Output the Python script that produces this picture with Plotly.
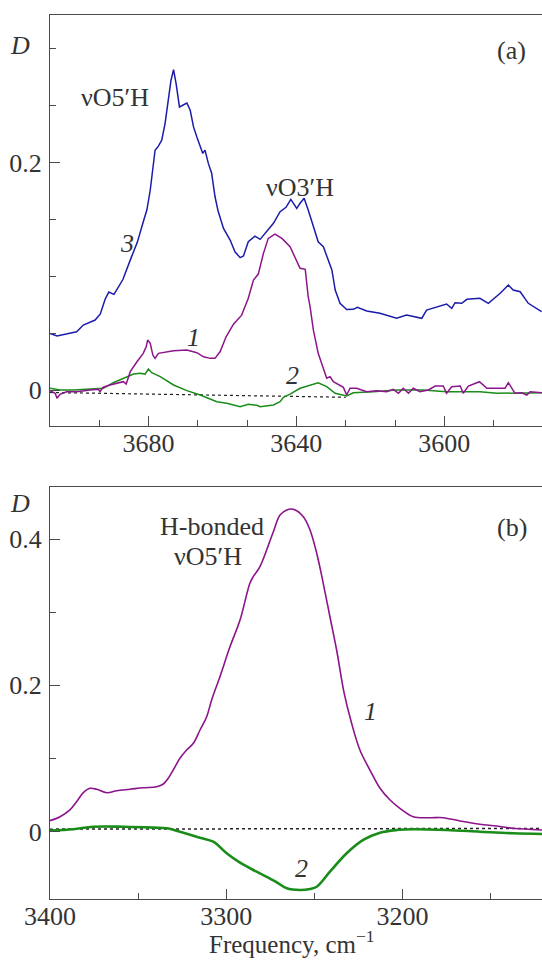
import plotly.graph_objects as go

# ---------------- Panel (a) data ----------------
freq_a3 = [3706.6, 3704.7, 3699.4, 3697.6, 3694.4, 3693.0, 3691.7, 3690.7, 3689.3, 3686.9,
           3684.6, 3683.0, 3681.3, 3680.4, 3679.5, 3678.2, 3677.3, 3676.4, 3675.5, 3674.6,
           3673.9, 3673.2, 3672.5, 3671.6, 3670.7, 3669.6, 3668.7, 3667.8, 3666.9, 3666.0,
           3665.3, 3664.7, 3663.8, 3662.9, 3662.0, 3661.2, 3659.7, 3657.9, 3656.6, 3655.2,
           3654.3, 3653.0, 3651.2, 3649.8, 3648.0, 3646.2, 3644.4, 3642.8, 3641.5, 3639.9,
           3639.0, 3637.9, 3636.8, 3635.4, 3634.1, 3632.7, 3631.4, 3630.4, 3629.5, 3628.2,
           3626.4, 3624.6, 3623.5, 3621.0, 3617.4, 3613.8, 3612.9, 3610.2, 3606.1, 3604.8,
           3602.1, 3599.4, 3598.0, 3597.1, 3595.3, 3593.9, 3590.4, 3588.1, 3584.9, 3582.7,
           3581.4, 3579.5, 3577.3, 3573.7]
d_a3 = [0.050, 0.0476, 0.0514, 0.0573, 0.0617, 0.067, 0.080, 0.0863, 0.0843, 0.0973,
        0.117, 0.130, 0.149, 0.1586, 0.176, 0.211, 0.2146, 0.2198, 0.2344, 0.2548,
        0.2723, 0.2819, 0.2694, 0.249, 0.2504, 0.2525, 0.2461, 0.2315, 0.2227, 0.214,
        0.2082, 0.2111, 0.1994, 0.1907, 0.1703, 0.158, 0.1423, 0.132, 0.1217, 0.1165,
        0.118, 0.1305, 0.1355, 0.1326, 0.1393, 0.1467, 0.1569, 0.1608, 0.1678, 0.1599,
        0.1643, 0.1687, 0.1584, 0.1437, 0.1305, 0.1261, 0.1145, 0.1057, 0.0881, 0.0764,
        0.071, 0.0711, 0.0729, 0.0696, 0.0676, 0.064, 0.0632, 0.0661, 0.0632, 0.0705,
        0.0734, 0.0758, 0.072, 0.0769, 0.0764, 0.0799, 0.0808, 0.0764, 0.0852, 0.0925,
        0.0881, 0.0866, 0.0764, 0.069]

freq_a1 = [3706.6, 3705.2, 3704.7, 3703.9, 3702.1, 3699.4, 3695.8, 3693.5, 3693.1, 3692.2,
           3690.4, 3688.5, 3686.8, 3686.0, 3684.9, 3683.1, 3681.4, 3680.6, 3680.2, 3679.5,
           3678.8, 3678.2, 3677.3, 3673.2, 3669.6, 3666.9, 3665.1, 3663.3, 3662.0, 3660.6,
           3659.0, 3657.0, 3655.7, 3654.8, 3653.9, 3653.0, 3651.6, 3650.3, 3648.9, 3647.6,
           3645.8, 3643.9, 3641.7, 3640.4, 3639.0, 3637.6, 3636.8, 3636.3, 3635.4, 3634.1,
           3632.7, 3631.8, 3630.9, 3630.0, 3627.3, 3626.4, 3625.5, 3623.7, 3621.0, 3618.3,
           3615.6, 3613.8, 3612.4, 3611.1, 3609.7, 3608.4, 3606.6, 3604.3, 3602.5, 3600.3,
           3599.4, 3598.0, 3595.7, 3594.9, 3593.5, 3591.2, 3590.5, 3588.5, 3585.4, 3583.6,
           3582.7, 3581.8, 3580.9, 3579.1, 3577.7, 3576.8, 3573.7]
d_a1 = [-0.0004, -0.0027, -0.0071, -0.0036, -0.0013, -0.0013, 0.0002, 0.0008, -0.0013, 0.0026,
        0.0046, 0.0061, 0.0075, 0.0055, 0.0163, 0.025, 0.0324, 0.0382, 0.0441, 0.0412,
        0.0309, 0.028, 0.0324, 0.0347, 0.0353, 0.033, 0.0294, 0.028, 0.028, 0.034,
        0.047, 0.058, 0.063, 0.066, 0.0734, 0.0808, 0.0969, 0.1021, 0.1203, 0.1335,
        0.1373, 0.1335, 0.1261, 0.1174, 0.1072, 0.1063, 0.0822, 0.0734, 0.0529, 0.0324,
        0.0178, 0.0105, 0.0119, 0.0075, 0.0025, -0.0042, 0.0017, 0.0017, -0.0013, -0.0004,
        -0.0013, 0.0008, -0.0027, 0.0017, -0.0027, 0.0017, -0.0013, 0.0002, 0.0037, 0.0037,
        -0.0027, 0.0031, 0.0037, -0.0027, 0.0037, 0.0061, 0.0075, 0.0017, 0.0017, 0.0017,
        0.0066, 0.0017, -0.0027, -0.0022, -0.0042, -0.0013, -0.0022]

freq_a2 = [3706.6, 3703.9, 3700.3, 3695.8, 3692.2, 3689.5, 3687.6, 3685.8, 3684.0, 3682.2,
           3680.9, 3680.0, 3679.1, 3676.8, 3673.2, 3669.6, 3666.0, 3661.5, 3658.8, 3655.2,
           3653.0, 3650.7, 3649.8, 3646.2, 3644.4, 3643.5, 3641.7, 3639.0, 3636.3, 3634.1,
           3631.8, 3629.5, 3626.4, 3624.6, 3619.2, 3612.9, 3605.7, 3599.4, 3590.4, 3585.8,
           3573.6]
d_a2 = [0.0017, 0.0002, 0.0002, 0.0008, 0.0017, 0.0066, 0.009, 0.0113, 0.0142, 0.0149,
        0.0142, 0.0186, 0.0154, 0.0119, 0.0046, -0.0004, -0.0042, -0.0101, -0.0115, -0.0145,
        -0.0124, -0.0133, -0.0145, -0.013, -0.0101, -0.0062, -0.0035, 0.0017, 0.0046, 0.0066,
        0.0031, -0.0027, -0.0051, -0.0022, -0.0013, 0.0002, 0.0002, -0.0013, -0.0013, -0.0027,
        -0.0022]

freq_a_base = [3706.6, 3626.6]
d_a_base = [-0.002, -0.0062]

# ---------------- Panel (b) data ----------------
freq_b1 = [3400.0, 3394.3, 3388.7, 3384.9, 3381.1, 3377.3, 3373.5, 3367.8, 3362.2, 3354.6,
           3347.1, 3339.5, 3335.7, 3332.9, 3330.1, 3326.3, 3322.5, 3318.7, 3314.9, 3311.1,
           3308.3, 3303.6, 3297.9, 3292.2, 3286.6, 3284.7, 3280.9, 3277.1, 3273.3, 3269.5,
           3265.7, 3262.0, 3256.3, 3252.5, 3248.7, 3245.0, 3241.2, 3237.4, 3233.2, 3228.9,
           3224.2, 3218.5, 3212.8, 3207.1, 3201.5, 3193.9, 3184.5, 3176.9, 3167.4, 3156.1,
           3146.6, 3137.2, 3120.9]
d_b1 = [0.015, 0.0205, 0.0297, 0.041, 0.0533, 0.0593, 0.058, 0.0533, 0.056, 0.058,
        0.0601, 0.0615, 0.0652, 0.073, 0.0843, 0.1003, 0.1117, 0.1208, 0.139, 0.1572,
        0.18, 0.2118, 0.2528, 0.2893, 0.3395, 0.3485, 0.3622, 0.385, 0.41, 0.4328,
        0.4397, 0.4406, 0.4305, 0.4123, 0.3805, 0.3395, 0.2938, 0.2483, 0.19, 0.1481,
        0.1117, 0.0843, 0.0593, 0.0433, 0.032, 0.0205, 0.0191, 0.0191, 0.0146, 0.0101,
        0.0078, 0.0046, 0.0023]

freq_b2 = [3400.0, 3386.8, 3375.4, 3358.4, 3341.2, 3333.8, 3326.3, 3314.9, 3307.4, 3299.8,
           3292.2, 3282.8, 3272.0, 3265.7, 3258.2, 3252.5, 3248.7, 3241.2, 3231.7, 3222.3,
           3212.8, 3203.3, 3193.9, 3175.0, 3156.1, 3137.2, 3120.9]
d_b2 = [0.0014, 0.0033, 0.0068, 0.0068, 0.0055, 0.0046, 0.0, -0.0082, -0.0137, -0.0295,
        -0.0424, -0.0547, -0.0683, -0.0774, -0.0797, -0.0783, -0.0752, -0.0547, -0.0295, -0.0113,
        -0.0014, 0.0023, 0.0033, 0.0023, 0.0, -0.0022, -0.0031]

freq_b_base = [3400.0, 3120.9]
d_b_base = [0.0035, 0.0045]

# tick labels
xticks_a = [3680, 3640, 3600]
yticks_a = [0, 0.2]
yticklabels_a = ["0", "0.2"]
xticks_b = [3400, 3300, 3200]
yticks_b = [0, 0.2, 0.4]
yticklabels_b = ["0", "0.2", "0.4"]

# ---------------- styling ----------------
W, H = 542, 960
BLUE = "#1c1caa"
PURPLE = "#8c148c"
GREEN = "#1a8c1a"
AXIS = "#4a4a4a"
TXT = "#333333"
FONT = "Liberation Serif, Times New Roman, serif"
FS = 26

def px(x):
    return x / W

def py(y):
    return 1 - y / H

fig = go.Figure()

fig.add_trace(go.Scatter(x=freq_a_base, y=d_a_base, mode="lines",
                         line=dict(color="#222222", width=1.2, dash="dot"),
                         xaxis="x", yaxis="y", showlegend=False, hoverinfo="skip"))
fig.add_trace(go.Scatter(x=freq_a3, y=d_a3, mode="lines", line=dict(color=BLUE, width=1.5),
                         xaxis="x", yaxis="y", showlegend=False))
fig.add_trace(go.Scatter(x=freq_a2, y=d_a2, mode="lines", line=dict(color=GREEN, width=1.5),
                         xaxis="x", yaxis="y", showlegend=False))
fig.add_trace(go.Scatter(x=freq_a1, y=d_a1, mode="lines", line=dict(color=PURPLE, width=1.5),
                         xaxis="x", yaxis="y", showlegend=False))

fig.add_trace(go.Scatter(x=freq_b_base, y=d_b_base, mode="lines",
                         line=dict(color="#222222", width=1.5, dash="dot"),
                         xaxis="x2", yaxis="y2", showlegend=False, hoverinfo="skip"))
fig.add_trace(go.Scatter(x=freq_b2, y=d_b2, mode="lines", line=dict(color=GREEN, width=2.6),
                         line_shape="spline", xaxis="x2", yaxis="y2", showlegend=False))
fig.add_trace(go.Scatter(x=freq_b1, y=d_b1, mode="lines", line=dict(color=PURPLE, width=1.6),
                         line_shape="spline", xaxis="x2", yaxis="y2", showlegend=False))

tickfont = dict(family=FONT, size=FS, color=TXT)

common_x = dict(showgrid=False, zeroline=False, showline=True, linecolor=AXIS, linewidth=1.3,
                mirror=True, ticks="inside", ticklen=10, tickwidth=1.2, tickcolor=AXIS,
                tickfont=tickfont, automargin=False, ticklabelstandoff=-6)
common_y = dict(showgrid=False, zeroline=False, showline=True, linecolor=AXIS, linewidth=1.3,
                ticks="inside", ticklen=10, tickwidth=1.2, tickcolor=AXIS,
                tickfont=tickfont, automargin=False, ticklabelstandoff=2)

fig.update_layout(
    width=W, height=H, margin=dict(l=0, r=0, t=0, b=0),
    paper_bgcolor="white", plot_bgcolor="white",
    font=dict(family=FONT, size=FS, color=TXT),
    xaxis=dict(common_x, domain=[px(50), 1], range=[3706.6, 3573.6], anchor="y",
               tickmode="array", tickvals=xticks_a,
               minor=dict(tick0=3680, dtick=40 / 3, ticks="inside", ticklen=6,
                          tickwidth=1.2, tickcolor=AXIS, showgrid=False)),
    yaxis=dict(common_y, domain=[py(425.7), py(14.5)], range=[-0.0312, 0.3303], anchor="x",
               tickmode="array", tickvals=yticks_a, ticktext=yticklabels_a,
               minor=dict(tick0=0, dtick=0.05, ticks="inside", ticklen=6,
                          tickwidth=1.2, tickcolor=AXIS, showgrid=False)),
    xaxis2=dict(common_x, domain=[px(50), 1], range=[3400, 3120.9], anchor="y2",
                tickmode="array", tickvals=xticks_b,
                minor=dict(tick0=3400, dtick=50, ticks="inside", ticklen=6,
                           tickwidth=1.2, tickcolor=AXIS, showgrid=False)),
    yaxis2=dict(common_y, domain=[py(899), py(487.3)], range=[-0.092, 0.4707], anchor="x2",
                tickmode="array", tickvals=yticks_b, ticktext=yticklabels_b,
                minor=dict(tick0=0, dtick=0.1, ticks="inside", ticklen=6,
                           tickwidth=1.2, tickcolor=AXIS, showgrid=False)),
)

def note(text, x, y, size=FS, italic=False):
    t = f"<i>{text}</i>" if italic else text
    fig.add_annotation(text=t, x=px(x), y=py(y), xref="paper", yref="paper",
                       showarrow=False, xanchor="center", yanchor="middle",
                       font=dict(family=FONT, size=size, color=TXT))

note("D", 20, 45, italic=True)
note("(a)", 511, 50)
note("\u03bdO5\u2032H", 115, 97)
note("\u03bdO3\u2032H", 300, 188)
note("3", 127, 243, italic=True)
note("1", 193, 337, italic=True)
note("2", 292, 376, italic=True)

note("D", 20, 503, italic=True)
note("(b)", 512, 527)
note("H-bonded", 212, 526)
note("\u03bdO5\u2032H", 208, 556)
note("1", 370, 711, italic=True)
note("2", 301, 868, italic=True)

fig.add_annotation(text="Frequency, cm<sup>\u22121</sup>", x=px(292), y=0,
                   xref="paper", yref="paper", showarrow=False,
                   xanchor="center", yanchor="bottom",
                   font=dict(family=FONT, size=25, color=TXT))

fig.write_html("out.html", config={"displayModeBar": False},
               post_script="document.body.style.margin='0px';document.body.style.overflow='hidden';")
